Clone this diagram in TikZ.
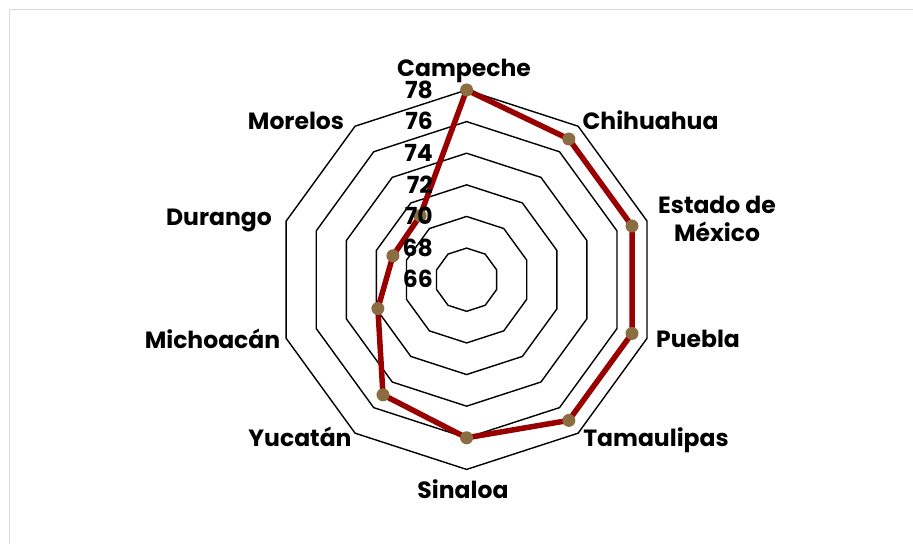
\documentclass[tikz,border=0pt]{standalone}
\usepackage{fontspec}
\setmainfont{Poppins}
\usepackage{tikz}
\usepackage{xcolor}
\definecolor{seriesred}{RGB}{153,0,0}
\definecolor{dotbrown}{RGB}{139,109,66}
\definecolor{framegray}{RGB}{217,217,217}

\begin{document}
\begin{tikzpicture}[x=1pt,y=1pt,
  catlabel/.style={font=\fontsize{23.5}{28.4}\selectfont\bfseries, anchor=base, inner sep=0pt, align=center},
  ticklabel/.style={font=\fontsize{23.5}{28.4}\selectfont\bfseries, anchor=base east, inner sep=0pt}]
\useasboundingbox (0,0) rectangle (913,544);
\draw [framegray, line width=1pt] (9,0) -- (9,534) -- (913,534);
% rings 68 to 78
\begin{scope}[shift={(466.6,264.3)}]
\foreach \i in {1,...,6} {
  \pgfmathsetmacro\r{\i*31.62}
  \draw [line width=1.4pt] (90:\r) \foreach \a in {126,162,...,414} { -- (\a:\r)} -- cycle;
}
% data points
\foreach \v [count=\k] in {78,77,77,77,77,76,75,71.9,70.9,71}
  \coordinate (p\k) at ({90-36*(\k-1)}:{(\v-66)*15.81});
\end{scope}
\draw [seriesred, line width=5.5pt, line join=round]
  (p1) -- (p2) -- (p3) -- (p4) -- (p5) -- (p6) -- (p7) -- (p8) -- (p9) -- (p10) -- cycle;
\foreach \k in {1,...,10}
  \fill [dotbrown] (p\k) circle (6.5);
% scale
\foreach \t [count=\i from 0] in {66,68,...,78}
  \node [ticklabel] (tick\t) at (433,{264.3+\i*31.62-8.2}) {\t};
% states
\node [catlabel] (campeche) at (464,467.3) {Campeche};
\node [catlabel] (chihuahua) at (650.5,414) {Chihuahua};
\node [catlabel] (edomex) at (717,302.3) {Estado de\\México};
\node [catlabel] (puebla) at (698,196) {Puebla};
\node [catlabel] (tamaulipas) at (656,97.3) {Tamaulipas};
\node [catlabel] (sinaloa) at (463,45.7) {Sinaloa};
\node [catlabel] (yucatan) at (300,97.3) {Yucatán};
\node [catlabel] (michoacan) at (212.5,195.7) {Michoacán};
\node [catlabel] (durango) at (219,318) {Durango};
\node [catlabel] (morelos) at (296,414) {Morelos};
\end{tikzpicture}
\end{document}
